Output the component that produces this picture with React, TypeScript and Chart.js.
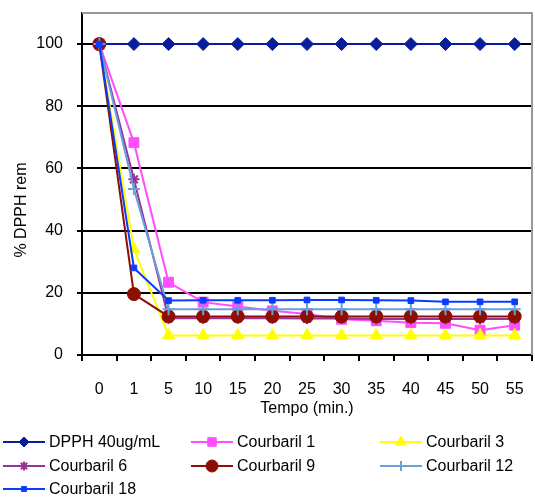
import React, { useEffect, useRef } from "react";
import { Chart, registerables } from "chart.js";
import { drawPoint } from "chart.js/helpers";

Chart.register(...registerables);

const categories = ["0", "1", "5", "10", "15", "20", "25", "30", "35", "40", "45", "50", "55"];
const dpph = [100, 100, 100, 100, 100, 100, 100, 100, 100, 100, 100, 100, 100];
const courbaril1 = [100, 68.3, 23.4, 17.0, 15.6, 14.2, 13.2, 11.5, 11.0, 10.4, 10.2, 8.0, 9.6];
const courbaril3 = [100, 34, 6.3, 6.3, 6.3, 6.3, 6.3, 6.3, 6.3, 6.3, 6.3, 6.3, 6.3];
const courbaril6 = [100, 56.5, 11.8, 11.8, 11.8, 11.8, 11.7, 11.7, 11.6, 11.6, 11.6, 11.6, 11.6];
const courbaril9 = [100, 19.6, 12.4, 12.4, 12.4, 12.4, 12.4, 12.4, 12.4, 12.4, 12.4, 12.4, 12.4];
const courbaril12 = [100, 53.4, 14.7, 14.7, 14.7, 14.7, 14.7, 14.7, 14.7, 14.7, 14.7, 14.7, 14.7];
const courbaril18 = [100, 28, 17.5, 17.6, 17.6, 17.6, 17.7, 17.7, 17.6, 17.5, 17.1, 17.1, 17.1];

const seriesNames = ["DPPH 40ug/mL", "Courbaril 1", "Courbaril 3", "Courbaril 6", "Courbaril 9", "Courbaril 12", "Courbaril 18"];
const seriesValues = [dpph, courbaril1, courbaril3, courbaril6, courbaril9, courbaril12, courbaril18];
const seriesColors = ["#0A1E9C", "#FF4DFF", "#FFFF00", "#993399", "#8E0E02", "#6A9FDC", "#0A3CFF"];
const seriesStyles = ["rectRot", "rect", "triangle", "star", "circle", "cross", "rect"];
const seriesRadius = [6.5, 7, 7, 5.5, 6.5, 6, 4];
const legendRadius = [5, 6, 6, 4.5, 6, 5, 3.5];

const yTitle = "% DPPH rem";
const xTitle = "Tempo (min.)";

const FONT = "'Liberation Sans', Arial, sans-serif";

export default function App() {
  const ref = useRef<HTMLCanvasElement | null>(null);

  useEffect(() => {
    if (!ref.current) return;
    const font = { family: FONT, size: 16 };

    const framePlugin = {
      id: "frame",
      beforeDatasetsDraw(chart: any) {
        const { ctx, chartArea } = chart;
        ctx.save();
        ctx.strokeStyle = "#999999";
        ctx.lineWidth = 2;
        ctx.beginPath();
        ctx.moveTo(chartArea.left, chartArea.top);
        ctx.lineTo(chartArea.right, chartArea.top);
        ctx.lineTo(chartArea.right, chartArea.bottom);
        ctx.stroke();
        ctx.restore();
      },
    };

    const extrasPlugin = {
      id: "extras",
      afterDraw(chart: any) {
        const { ctx } = chart;
        ctx.save();
        ctx.fillStyle = "#000";
        ctx.font = `16px ${FONT}`;
        ctx.textAlign = "center";
        ctx.textBaseline = "middle";
        ctx.translate(22, 210);
        ctx.rotate(-Math.PI / 2);
        ctx.fillText(yTitle, 0, 0);
        ctx.restore();

        const colX = [3, 191, 380];
        const rowY = [442, 466, 489];
        seriesNames.forEach((name, i) => {
          const x0 = colX[i % 3];
          const y = rowY[Math.floor(i / 3)];
          ctx.save();
          ctx.strokeStyle = seriesColors[i];
          ctx.lineWidth = 2;
          ctx.beginPath();
          ctx.moveTo(x0, y);
          ctx.lineTo(x0 + 42, y);
          ctx.stroke();
          ctx.fillStyle = seriesColors[i];
          ctx.strokeStyle = seriesColors[i];
          const st = seriesStyles[i];
          ctx.lineWidth = st === "star" || st === "cross" ? 2 : 1;
          drawPoint(ctx, { pointStyle: st, radius: legendRadius[i], rotation: 0, borderWidth: ctx.lineWidth }, x0 + 21, y);
          ctx.fillStyle = "#000";
          ctx.font = `16px ${FONT}`;
          ctx.textAlign = "left";
          ctx.textBaseline = "middle";
          ctx.fillText(name, x0 + 46, y + 1);
          ctx.restore();
        });
      },
    };

    const datasets = seriesNames.map((name, i) => {
      const st = seriesStyles[i];
      const stroke = st === "star" || st === "cross";
      return {
        label: name,
        data: seriesValues[i],
        borderColor: seriesColors[i],
        backgroundColor: seriesColors[i],
        borderWidth: 2,
        pointStyle: st,
        pointRadius: seriesRadius[i],
        pointBackgroundColor: seriesColors[i],
        pointBorderColor: seriesColors[i],
        pointBorderWidth: stroke ? 2 : 1,
        tension: 0,
        order: seriesNames.length - i,
      };
    });

    const chart = new Chart(ref.current, {
      type: "line",
      data: { labels: categories, datasets: datasets as any },
      options: {
        responsive: false,
        animation: false,
        devicePixelRatio: 1,
        layout: { autoPadding: false, padding: { left: 0, right: 3, top: 13, bottom: 79 } },
        plugins: {
          legend: { display: false },
          tooltip: { enabled: false },
          title: { display: false },
        },
        scales: {
          x: {
            type: "category",
            offset: true,
            grid: { offset: true, drawOnChartArea: false, drawTicks: true, tickLength: 6, color: "#000", lineWidth: 2 },
            border: { color: "#000", width: 2 },
            ticks: { color: "#000", font, padding: 19, maxRotation: 0, autoSkip: false },
            title: { display: true, text: xTitle, color: "#000", font, padding: 0 },
            afterFit: (s: any) => {
              s.height = 63;
              s.paddingLeft = 0;
              s.paddingRight = 0;
            },
          },
          y: {
            min: 0,
            max: 110,
            ticks: { stepSize: 20, includeBounds: false, color: "#000", font, padding: 14 },
            grid: { color: "#000", lineWidth: 2, tickLength: 5, drawTicks: true },
            border: { color: "#000", width: 2 },
            afterFit: (s: any) => {
              s.width = 82;
              s.paddingTop = 0;
              s.paddingBottom = 0;
            },
          },
        },
      },
      plugins: [framePlugin, extrasPlugin],
    });
    return () => chart.destroy();
  }, []);

  return (
    <div style={{ position: "absolute", left: 0, top: 0, width: 535, height: 497, background: "#fff" }}>
      <canvas ref={ref} width={535} height={497} />
    </div>
  );
}
